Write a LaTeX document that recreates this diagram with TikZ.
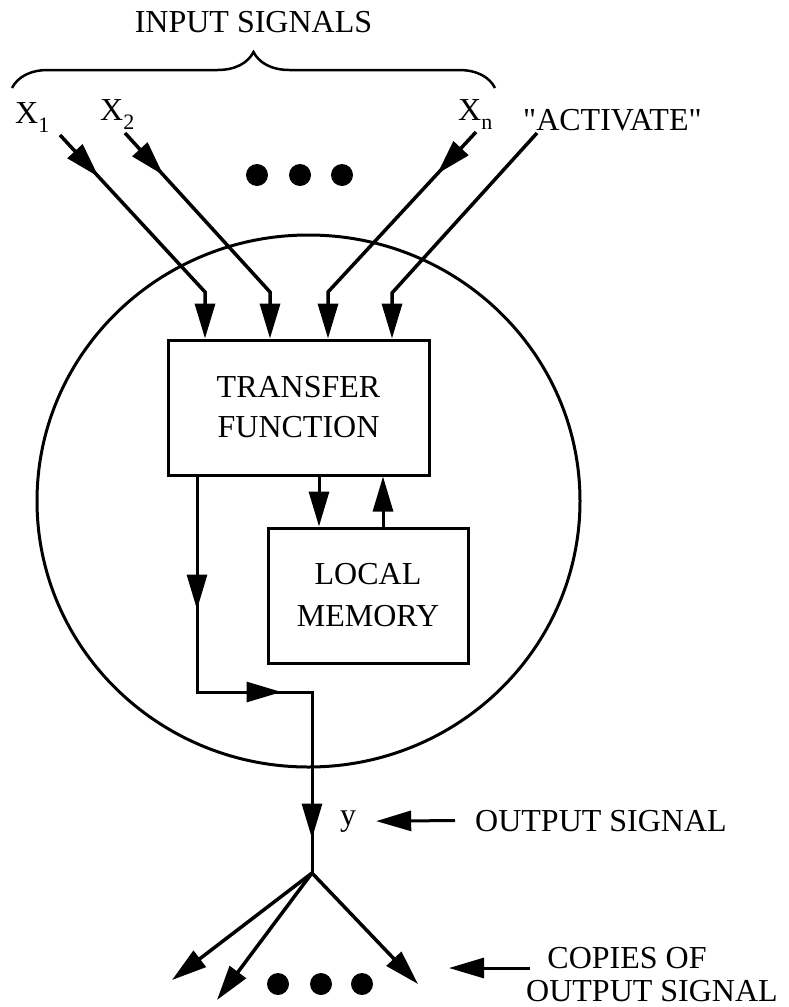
\documentclass[tikz,border=0pt]{standalone}
\usepackage{fontspec}
\setmainfont{Liberation Serif}
\usetikzlibrary{arrows.meta,decorations.pathreplacing,decorations.markings,calc}
\tikzstyle{unit box}=[draw,line width=3pt,align=center,inner sep=0pt]
\tikzstyle{signal}=[line width=3.5pt]
\tikzstyle{wire}=[line width=3pt]
\tikzstyle{caption}=[inner sep=0pt]
\tikzset{midtip/.style={postaction={decorate,decoration={markings,mark=at position #1 with {\arrow{>}}}}}}
\newcommand{\sigidx}[1]{\raisebox{-9pt}{\fontsize{22}{22}\selectfont #1}}

\begin{document}
\begin{tikzpicture}[x=1pt,y=-1pt,>={Triangle[length=35pt,width=20pt]},font=\fontsize{32}{40}\selectfont]
  \useasboundingbox (0,0) rectangle (789,1007);

  % the processing element
  \draw[wire] (308.5,501) ellipse [x radius=271.5, y radius=266];

  \node[unit box, minimum width=261pt, minimum height=135pt] (tf) at (298.5,407.5) {TRANSFER\\FUNCTION};
  \node[unit box, minimum width=200pt, minimum height=135pt, font=\fontsize{32}{42}\selectfont] (lm) at (368,595.5) {LOCAL\\MEMORY};

  % inputs
  \node[caption, anchor=base] (insig) at (253.5,32) {INPUT SIGNALS};
  \draw[decorate, decoration={brace,amplitude=36pt}, line width=2.5pt] (12,88) -- (495,88);

  \node[caption, anchor=base west] (lx1) at (15,123) {X\sigidx{1}};
  \node[caption, anchor=base west] (lx2) at (100,120) {X\sigidx{2}};
  \node[caption, anchor=base west] (lxn) at (458,120) {X\sigidx{n}};
  \node[caption, anchor=base west] (lact) at (523,130) {\textquotedbl ACTIVATE\textquotedbl};

  \coordinate (s1) at (60,135);  \coordinate (b1) at (205,292);
  \coordinate (s2) at (125,133); \coordinate (b2) at (270,292);
  \coordinate (sn) at (476,132); \coordinate (bn) at (328,292);
  \coordinate (sa) at (537,133); \coordinate (ba) at (392,293);

  \draw[signal,->,midtip=57pt] (s1) -- (b1) -- (b1 |- tf.north);
  \draw[signal,->,midtip=57pt] (s2) -- (b2) -- (b2 |- tf.north);
  \draw[signal,->,midtip=57pt] (sn) -- (bn) -- (bn |- tf.north);
  \draw[signal,->] (sa) -- (ba) -- (ba |- tf.north);

  \foreach \x in {257,300,342}
    \fill (\x,175) circle [radius=11];

  % memory loop
  \draw[wire,->] ([xshift=20.5pt]tf.south) -- ([xshift=-49pt]lm.north);
  \draw[wire,->] ([xshift=15pt]lm.north) -- ([xshift=84.5pt]tf.south);

  % output
  \coordinate (ob) at (197,692); \coordinate (oc) at (312,692); \coordinate (fork) at (312,873);
  \draw[wire,midtip=133pt,midtip=300pt,midtip=477pt] (ob |- tf.south) -- (ob) -- (oc) -- (fork);

  \node[caption, anchor=base] (yl) at (348,825) {y};
  \node[caption, anchor=base west] (osig) at (475,831) {OUTPUT SIGNAL};
  \draw[wire,->] ([xshift=-20pt]osig.west) -- ([xshift=20pt]yl.east);

  \coordinate (c1) at (172,980); \coordinate (c2) at (217,1000); \coordinate (c3) at (418,984);
  \foreach \c in {c1,c2,c3}
    \draw[signal,->] (fork) -- (\c);
  \foreach \x in {278,321,362}
    \fill (\x,984) circle [radius=11];

  \node[caption, anchor=north, align=center, font=\fontsize{32}{33}\selectfont] (cp) at (652,947) {COPIES OF\hspace*{50pt}\\OUTPUT SIGNAL};
  \coordinate (cpt) at (530,968); \coordinate (cph) at (449,968);
  \draw[wire,->] (cpt) -- (cph);
\end{tikzpicture}
\end{document}
